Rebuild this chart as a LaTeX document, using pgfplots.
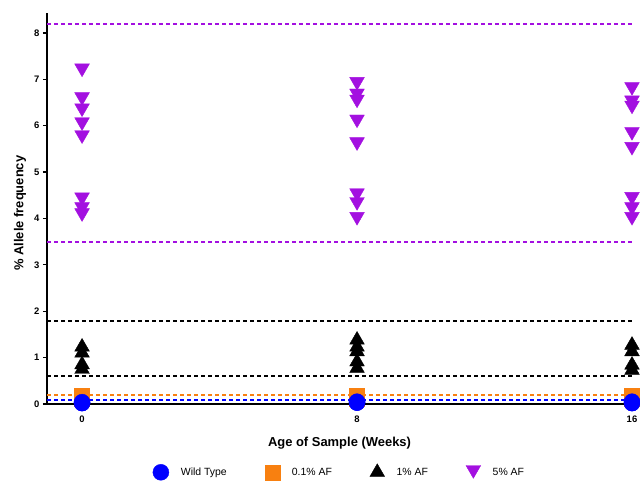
\documentclass[border=0pt]{standalone}
\usepackage{fontspec}
\setmainfont{Liberation Sans}
\usepackage{pgfplots}
\pgfplotsset{compat=1.18}
\definecolor{cpurple}{RGB}{163,16,224}
\definecolor{corange}{RGB}{248,128,16}
\definecolor{cblue}{RGB}{0,0,255}
\pgfplotsset{downlegend/.style={legend image code/.code={\draw[##1] plot coordinates {(0bp,2.5bp)};}}}
\begin{document}
\begin{tikzpicture}
\path[use as bounding box] (0,0) rectangle (640bp,482bp);
\begin{axis}[
  at={(47bp,78bp)}, anchor=south west,
  scale only axis, width=585bp, height=391bp,
  xmin=-1.02, xmax=16, ymin=0, ymax=8.43,
  clip=false,
  axis x line*=bottom, axis y line*=left,
  axis line style={line width=1.6bp, -},
  xtick={0,8,16}, ytick={0,1,...,8},
  xtick style={draw=none},
  ytick style={line width=1.2bp, black},
  tick align=outside, major tick length=4bp,
  tick label style={font=\fontsize{9.5}{11}\selectfont\bfseries},
  /pgf/number format/assume math mode=true,
  xticklabel style={yshift=-4bp},
  xlabel={Age of Sample (Weeks)},
  ylabel={\% Allele frequency},
  label style={font=\fontsize{13}{15}\selectfont\bfseries},
  xlabel style={at={(axis description cs:0.5,-0.1)}, anchor=center},
  ylabel style={at={(axis description cs:-0.046,0.488)}, anchor=center},
  legend columns=4,
  legend image code/.code={\draw[#1] plot coordinates {(0bp,0bp)};},
  legend style={draw=none, at={(axis description cs:0.5,-0.174)}, anchor=center,
    font=\fontsize{10.5}{12}\selectfont,
    /tikz/every odd column/.append style={column sep=10bp},
    /tikz/every even column/.append style={column sep=36bp}},
]
% reference lines
\addplot[draw=cpurple, line width=2bp, dash pattern=on 4bp off 3bp, forget plot] coordinates {(-1.02,8.2) (16,8.2)};
\addplot[draw=cpurple, line width=2bp, dash pattern=on 4bp off 3bp, forget plot] coordinates {(-1.02,3.5) (16,3.5)};
\addplot[draw=black, line width=2bp, dash pattern=on 4bp off 3bp, forget plot] coordinates {(-1.02,1.8) (16,1.8)};
\addplot[draw=black, line width=2bp, dash pattern=on 4bp off 3bp, forget plot] coordinates {(-1.02,0.6) (16,0.6)};
\addplot[draw=corange, line width=2bp, dash pattern=on 4bp off 3bp, forget plot] coordinates {(-1.02,0.19) (16,0.19)};
\addplot[draw=cblue, line width=2bp, dash pattern=on 4bp off 3bp, forget plot] coordinates {(-1.02,0.09) (16,0.09)};
% wild type (legend entry)
\addplot[only marks, mark=*, mark size=8bp, color=cblue] coordinates {
(0,0.02) (0,0.04) (8,0.03) (8,0.05) (16,0.02) (16,0.05)};
% 0.1% AF
\addplot[only marks, mark=square*, mark size=7.5bp, color=corange] coordinates {
(0,0.12) (0,0.15) (0,0.18) (8,0.12) (8,0.15) (8,0.18) (16,0.12) (16,0.15) (16,0.18)};
% wild type again on top
\addplot[only marks, mark=*, mark size=8bp, color=cblue, forget plot] coordinates {
(0,0.02) (0,0.04) (8,0.03) (8,0.05) (16,0.02) (16,0.05)};
% 1% AF
\addplot[only marks, mark=triangle*, mark size=8.5bp, color=black] coordinates {
(0,1.23) (0,1.1) (0,0.85) (0,0.75)
(8,1.38) (8,1.23) (8,1.13) (8,0.91) (8,0.77)
(16,1.27) (16,1.13) (16,0.84) (16,0.73)};
% 5% AF
\addplot[only marks, mark=triangle*, mark size=8.5bp, color=cpurple, mark options={rotate=180}, downlegend] coordinates {
(0,7.24) (0,6.62) (0,6.38) (0,6.08) (0,5.8) (0,4.46) (0,4.25) (0,4.12)
(8,6.95) (8,6.7) (8,6.57) (8,6.14) (8,5.65) (8,4.55) (8,4.36) (8,4.04)
(16,6.84) (16,6.55) (16,6.44) (16,5.87) (16,5.55) (16,4.47) (16,4.25) (16,4.04)};
\legend{Wild Type, 0.1\% AF, 1\% AF, 5\% AF}
\end{axis}
\end{tikzpicture}
\end{document}
